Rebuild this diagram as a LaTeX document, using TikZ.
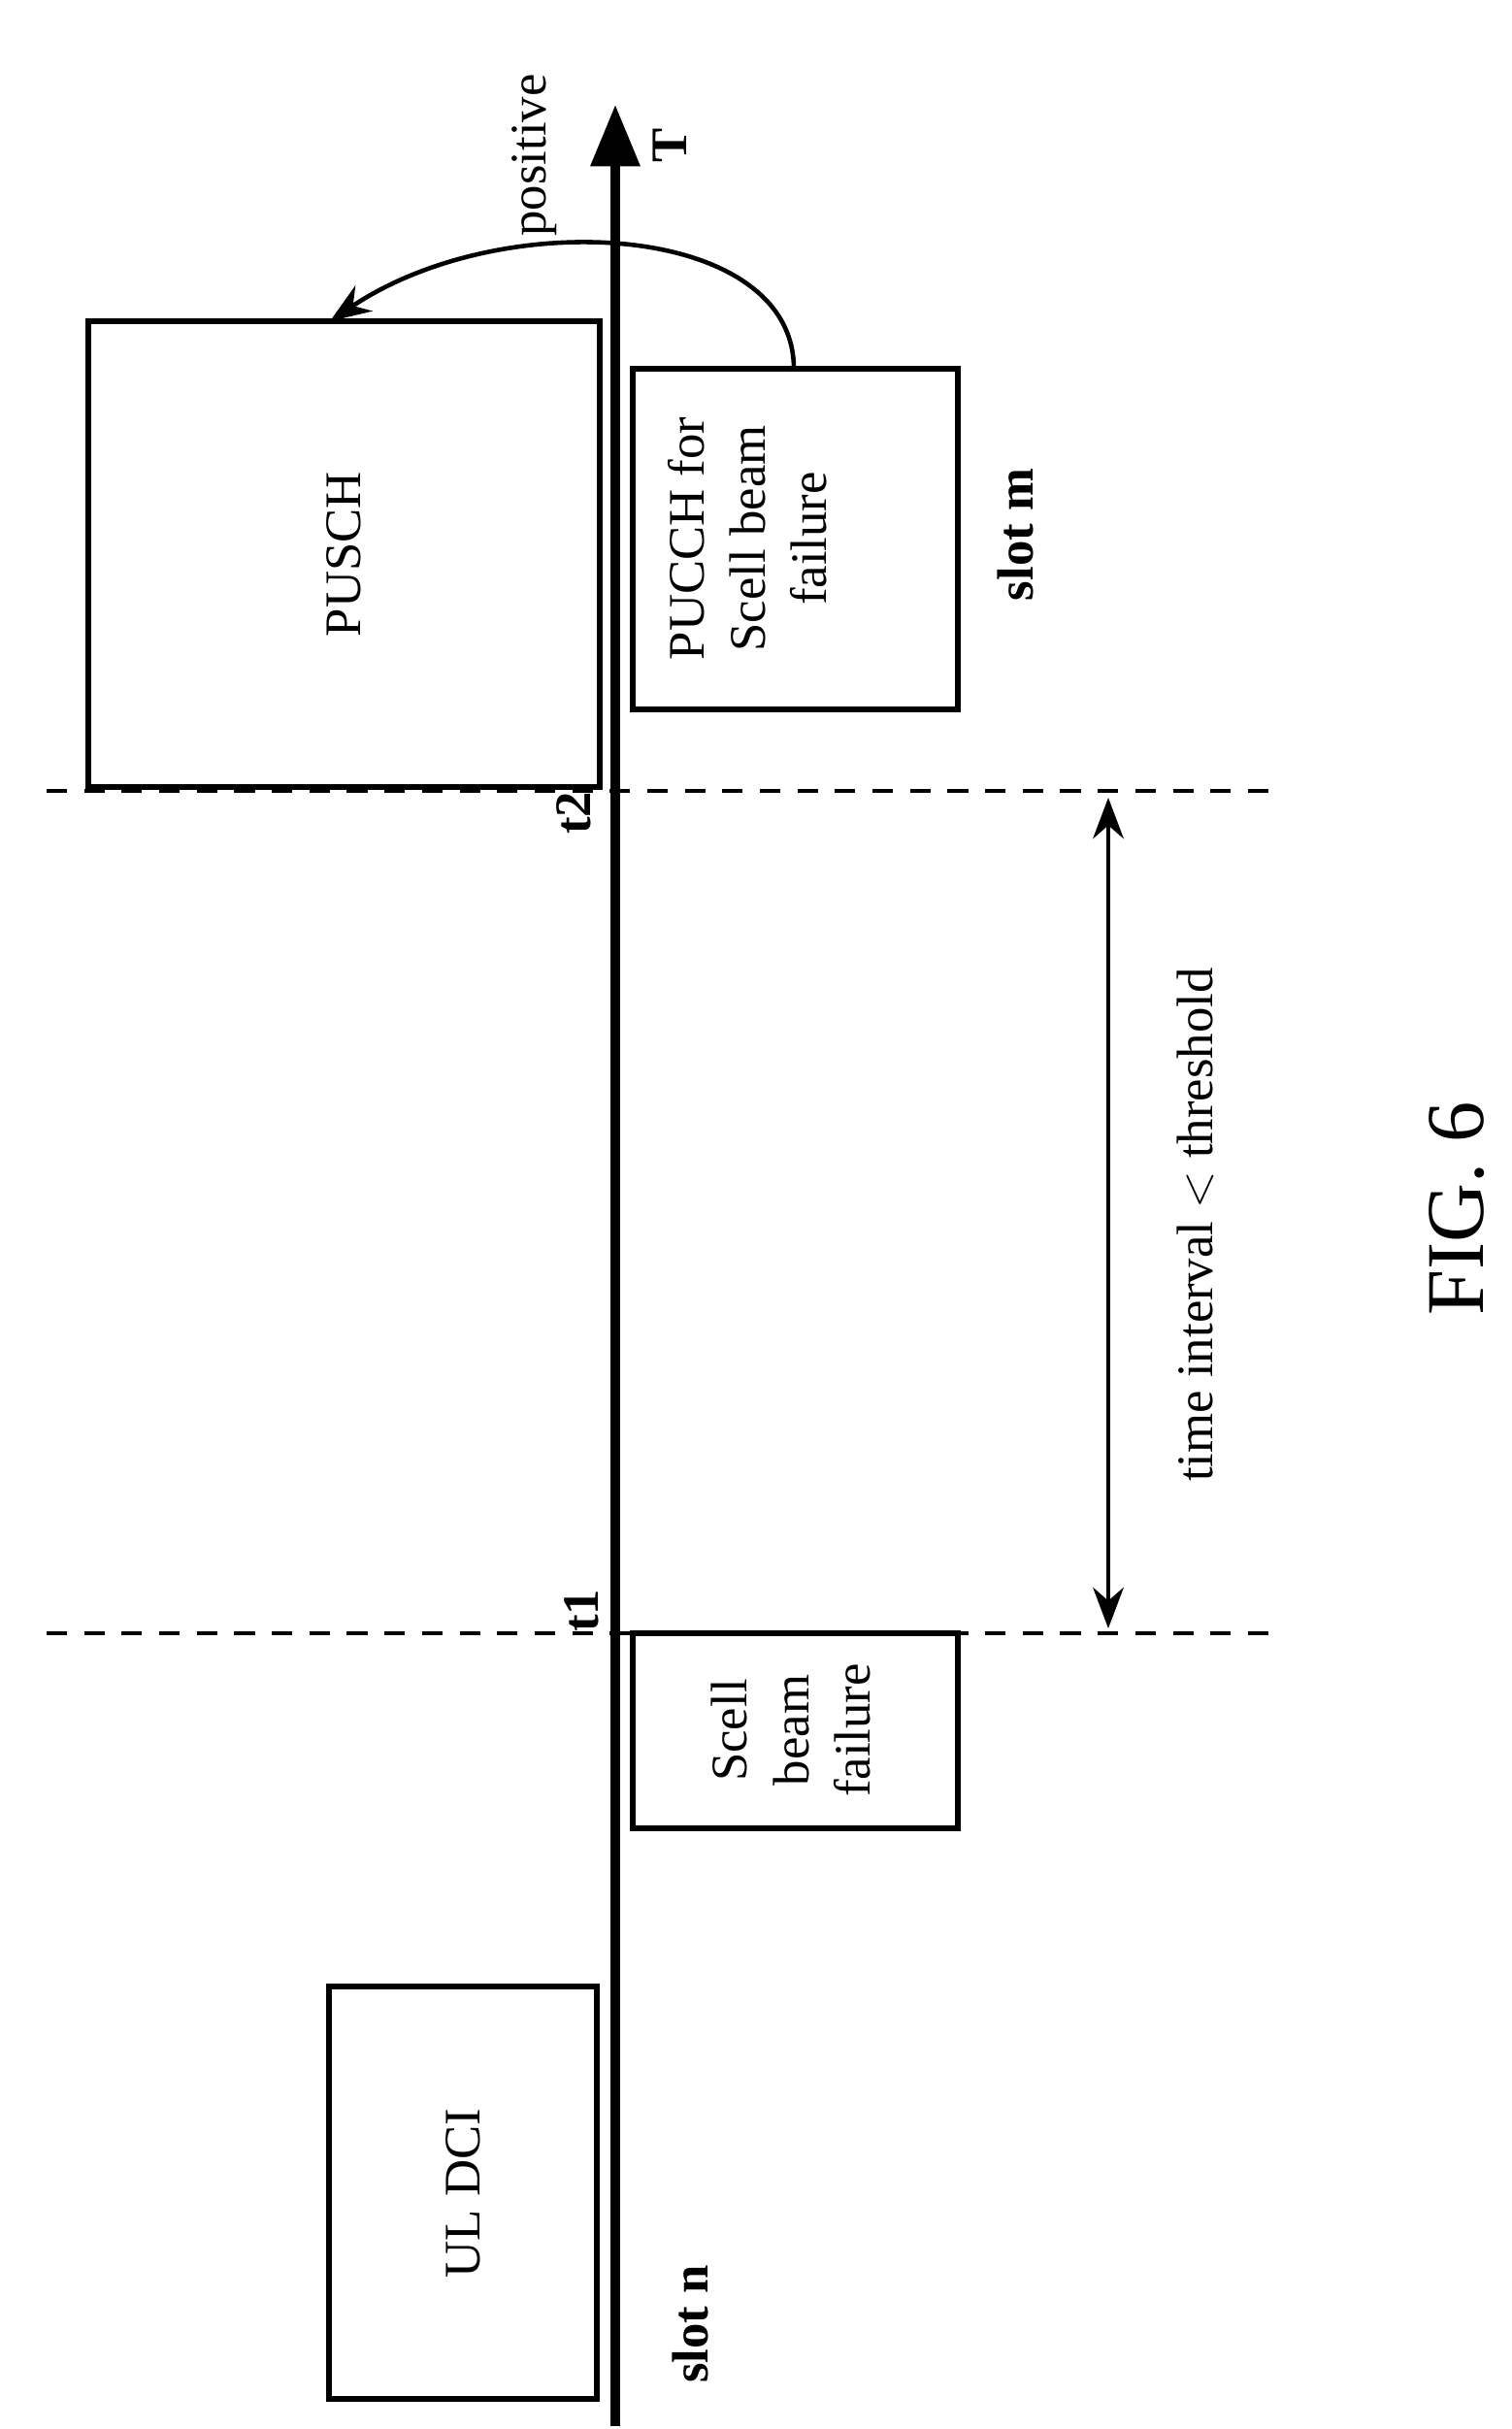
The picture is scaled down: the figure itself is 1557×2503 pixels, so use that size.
\documentclass[tikz,border=0pt]{standalone}
\usepackage{fontspec}
\setmainfont{Liberation Serif}
\usetikzlibrary{arrows.meta}
\begin{document}
\begin{tikzpicture}[x=0.01cm,y=-0.01cm,
  box/.style={draw,line width=1.8pt},
  lbl/.style={rotate=90,font=\fontsize{15}{18}\selectfont,align=center},
  blbl/.style={rotate=90,font=\fontsize{15}{18}\selectfont\bfseries},
  dline/.style={dashed,line width=0.9pt,dash pattern=on 6pt off 5pt}]
\useasboundingbox (0,0) rectangle (1557,2503);
\coordinate (atop) at (634,108);
\coordinate (abot) at (634,2500);
\draw[line width=2.6pt,-{Triangle[length=18pt,width=14pt]}] (abot) -- (atop);
\node[blbl] (T) at (690,150) {T};
\draw[box] (91,331) rectangle (618,811);
\node[lbl] (puschl) at (354,571) {PUSCH};
\draw[box] (652,380) rectangle (987,731);
\node[lbl] (pucch) at (770,555) {PUCCH for\\Scell beam\\failure};
\node[blbl] (slotm) at (1046,551) {slot m};
\coordinate (d2a) at (48,815); \coordinate (d2b) at (1310,815);
\coordinate (d1a) at (48,1683); \coordinate (d1b) at (1310,1683);
\draw[dline] (d2a) -- (d2b);
\draw[dline] (d1a) -- (d1b);
\node[blbl] (t2) at (591,838) {t2};
\node[blbl] (t1) at (599,1660) {t1};
\coordinate (ia) at (1142,822); \coordinate (ib) at (1142,1678);
\draw[line width=1.3pt,{Stealth[length=12pt]}-{Stealth[length=12pt]}] (ia) -- (ib);
\node[lbl] (interval) at (1232,1262) {time interval $<$ threshold};
\draw[box] (652,1683) rectangle (987,1884);
\node[lbl] (scell) at (815,1783) {Scell\\beam\\failure};
\draw[box] (339,2047) rectangle (615,2472);
\node[lbl] (uldci) at (477,2260) {UL DCI};
\node[blbl] (slotn) at (711,2395) {slot n};
\coordinate (cs) at (818,380); \coordinate (ce) at (340,331);
\draw[line width=1.3pt,-{Stealth[length=12pt]}] (cs) .. controls (818,230) and (520,210) .. (ce);
\node[lbl] (pos) at (551,160) {positive};
\node[rotate=90,font=\fontsize{24}{28}\selectfont] (fig) at (1501,1245) {FIG. 6};
\end{tikzpicture}
\end{document}
